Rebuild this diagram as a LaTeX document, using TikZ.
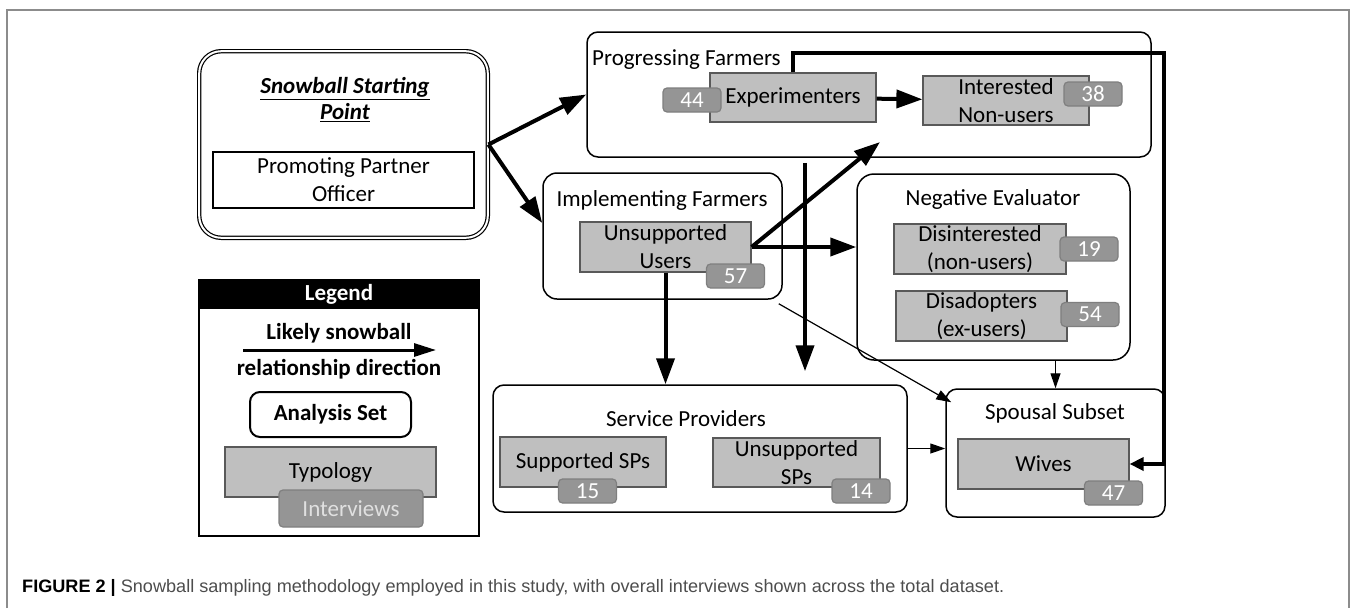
\documentclass[tikz,border=0pt]{standalone}
\usepackage{fontspec}
\setmainfont{Carlito}
\newfontfamily\capfont{Liberation Sans}
\usepackage{graphicx}
\usepackage{xcolor}
\usetikzlibrary{arrows.meta}
\definecolor{typfill}{HTML}{BFBFBF}
\definecolor{typline}{HTML}{595959}
\definecolor{cntfill}{HTML}{959595}
\definecolor{cntline}{HTML}{7F7F7F}
\definecolor{framegray}{HTML}{8C8C8C}
\definecolor{capgray}{HTML}{4D4D4D}

\begin{document}
\begin{tikzpicture}[x=1pt, y=-1pt,
  every node/.style={font=\fontsize{23}{28}\selectfont, inner sep=0pt},
  grp/.style={draw, line width=1.5pt, rounded corners=11pt, fill=white},
  typ/.style={draw=typline, fill=typfill, line width=1.2pt, align=center},
  cnt/.style={draw=cntline, fill=cntfill, line width=1.2pt, rounded corners=4pt, text=white, minimum width=58pt, minimum height=24pt},
  mainarr/.style={line width=4pt, -{Triangle[length=26pt,width=18pt]}},
  sidearr/.style={line width=1.2pt, -{Triangle[length=15pt,width=10pt]}}
]
\useasboundingbox (0,0) rectangle (1357,608);
\draw[framegray, line width=1.5pt] (7,608) -- (7,10) -- (1349,10) -- (1349,608);

% starting point
\node[grp, double, double distance=2pt, line width=1.2pt, rounded corners=22pt, minimum width=288.6pt, minimum height=186.6pt] (snow) at (343.5,144.5) {};
\node[font=\fontsize{23}{26}\selectfont\bfseries\itshape, align=center] (snowT) at (345,100) {\underline{Snowball Starting}\\\underline{Point}};
\node[draw, line width=1.5pt, fill=white, minimum width=261pt, minimum height=56pt, align=center] (ppo) at (343.5,180) {Promoting Partner\\Officer};

% analysis sets
\node[grp, minimum width=564pt, minimum height=125pt] (prog) at (869,94.5) {};
\node[anchor=west] (progT) at (592,60) {Progressing Farmers};
\node[grp, rounded corners=14pt, minimum width=239pt, minimum height=126pt] (impl) at (662.5,236) {};
\node (implT) at (662,200) {Implementing Farmers};
\node[grp, rounded corners=17pt, minimum width=273pt, minimum height=186pt] (neg) at (993.5,267) {};
\node (negT) at (993,199) {Negative Evaluator};
\node[grp, minimum width=414pt, minimum height=127pt] (sp) at (700,448.5) {};
\node (spT) at (686,419) {Service Providers};
\node[grp, minimum width=219pt, minimum height=128pt] (spo) at (1055.5,453) {};
\node (spoT) at (1055,413) {Spousal Subset};

% typologies
\foreach \nm/\x/\y/\w/\h/\txt in {exp/793/97.5/166/49/Experimenters, int/1006/100.5/166/49/{Interested\\Non-users},
  uu/665.5/247/171/50/{Unsupported\\Users}, dis/980/249/172/50/{Disinterested\\(non-users)},
  dad/981.5/316/171/50/{Disadopters\\(ex-users)}, ssp/583/462/166/50/{Supported SPs},
  usp/796.5/462.5/167/49/{Unsupported\\SPs}, wiv/1043.5/464/171/50/Wives}
  \node[typ, minimum width=\w pt, minimum height=\h pt] (\nm) at (\x,\y) {\txt};

% interview counts
\foreach \nm/\x/\y/\n in {b44/692/100/44, b38/1093/94/38, b57/735.5/276/57, b19/1089/249/19,
  b54/1090/314.5/54, b15/587.5/491/15, b14/861/491/14, b47/1113.5/493/47}
  \node[cnt] (\nm) at (\x,\y) {\n};

% snowball links
\coordinate (tipP) at (880,142);
\coordinate (vx) at (805,0);
\coordinate (rtop) at (1164,53);
\draw[mainarr] (snow.east) -- (prog.west);
\draw[mainarr] (snow.east) -- ([yshift=13pt]impl.west);
\draw[mainarr] (exp) -- (int);
\draw[mainarr] (uu.east) -- (tipP);
\draw[mainarr] (uu.east) -- (uu.east -| neg.west);
\draw[mainarr] (uu.south) -- (uu.south |- sp.north);
\draw[mainarr, shorten <=5pt, shorten >=13pt] (prog.south -| vx) -- (sp.north -| vx);
\draw[sidearr] ([shift={(-4,4)}]impl.south east) -- ([shift={(6,14)}]spo.north west);
\draw[sidearr] (spo.north |- neg.south) -- (spo.north);
\draw[sidearr] (sp.east) -- (sp.east -| spo.west);
\draw[line width=4pt, -{Triangle[length=14pt,width=13pt]}] (exp.north) |- (rtop) |- (wiv.east);

% legend
\node[draw, line width=2pt, minimum width=280pt, minimum height=256pt] (leg) at (339,408) {};
\node[fill=black, text=white, font=\fontsize{23}{28}\selectfont\bfseries, minimum width=280pt, minimum height=29pt] (legT) at (339,294.5) {Legend};
\node[font=\fontsize{23}{28}\selectfont\bfseries] (legA) at (339,333) {Likely snowball};
\coordinate (la1) at (243,350);
\coordinate (la2) at (436,350);
\draw[line width=3pt, -{Triangle[length=22pt,width=13pt]}] (la1) -- (la2);
\node[font=\fontsize{23}{28}\selectfont\bfseries] (legB) at (339,369) {relationship direction};
\node[draw, line width=2pt, rounded corners=10pt, minimum width=161pt, minimum height=45pt, font=\fontsize{23}{28}\selectfont\bfseries] (legSet) at (330.5,414.5) {Analysis Set};
\node[typ, minimum width=211pt, minimum height=50pt] (legTyp) at (330.5,472) {Typology};
\node[cnt, minimum width=144pt, minimum height=37pt, text=black!12] (legCnt) at (351,508.5) {Interviews};

% caption
\node[anchor=west, font=\capfont\fontsize{18}{20}\selectfont, text=capgray] (cap) at (22,588) {\resizebox{982pt}{\height}{\textcolor{black}{\textbf{FIGURE 2 |}} Snowball sampling methodology employed in this study, with overall interviews shown across the total dataset.}};
\end{tikzpicture}
\end{document}
